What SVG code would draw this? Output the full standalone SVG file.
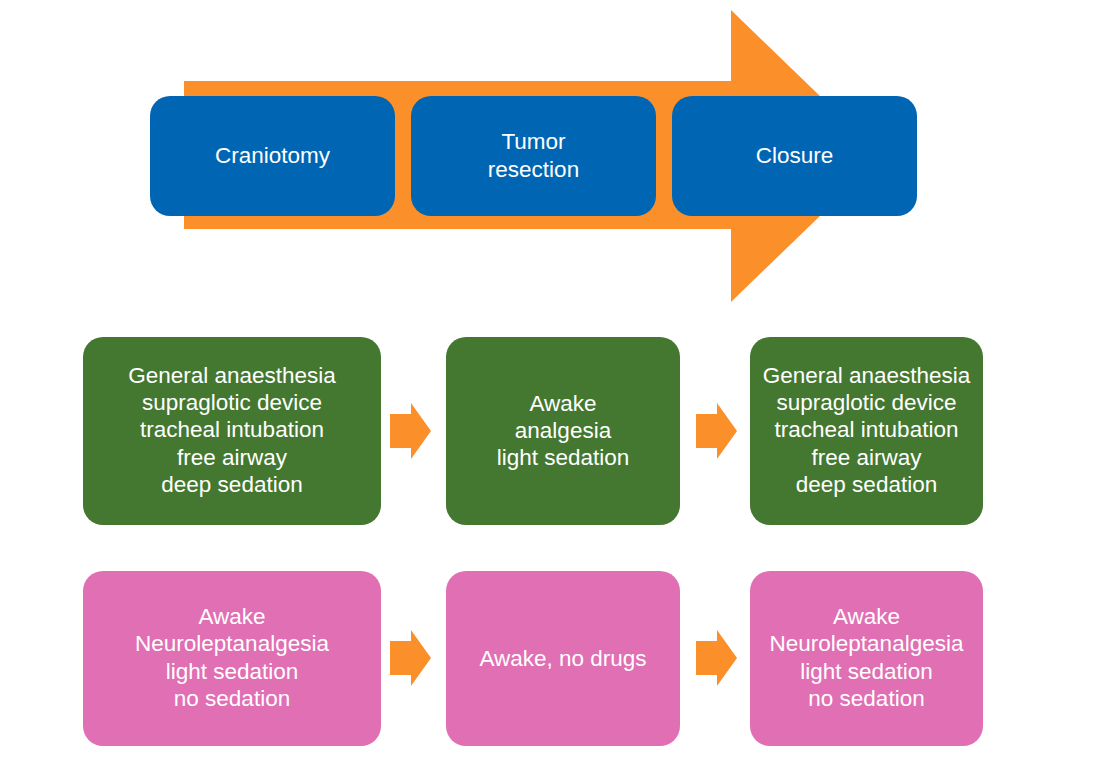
<svg xmlns="http://www.w3.org/2000/svg" width="1102" height="762" viewBox="0 0 1102 762">
<style>
.t{font-family:"Liberation Sans",Arial,sans-serif;font-size:22.5px;fill:#ffffff;text-anchor:middle}
.blue{fill:#0066b3}
.green{fill:#447831}
.pink{fill:#e16fb4}
.arr{fill:#fb8f2a}
</style>
<defs>
<path id="sa" d="M0,-17 H21 V-28 L41,0 L21,28 V17 H0 Z"/>
</defs>
<rect width="1102" height="762" fill="#ffffff"/>
<g id="connectors">
<path class="arr" d="M184,81 H731 V10 L882,156 L731,302 V229 H184 Z"/>
<use href="#sa" class="arr" x="390" y="431"/>
<use href="#sa" class="arr" x="696" y="431"/>
<use href="#sa" class="arr" x="390" y="658"/>
<use href="#sa" class="arr" x="696" y="658"/>
</g>
<g id="craniotomy"><rect class="blue" x="150" y="96" width="245" height="120" rx="20"/><text class="t" x="272.5" y="163">Craniotomy</text></g>
<g id="tumor"><rect class="blue" x="411" y="96" width="245" height="120" rx="20"/><text class="t" x="533.5" y="149">Tumor</text><text class="t" x="533.5" y="177">resection</text></g>
<g id="closure"><rect class="blue" x="672" y="96" width="245" height="120" rx="20"/><text class="t" x="794.5" y="163">Closure</text></g>
<g id="g1"><rect class="green" x="83" y="337" width="298" height="188" rx="20"/>
<text class="t" x="232" y="383">General anaesthesia</text><text class="t" x="232" y="410">supraglotic device</text><text class="t" x="232" y="437">tracheal intubation</text><text class="t" x="232" y="465">free airway</text><text class="t" x="232" y="492">deep sedation</text></g>
<g id="g2"><rect class="green" x="446" y="337" width="234" height="188" rx="20"/>
<text class="t" x="563" y="411">Awake</text><text class="t" x="563" y="438">analgesia</text><text class="t" x="563" y="465">light sedation</text></g>
<g id="g3"><rect class="green" x="750" y="337" width="233" height="188" rx="20"/>
<text class="t" x="866.5" y="383">General anaesthesia</text><text class="t" x="866.5" y="410">supraglotic device</text><text class="t" x="866.5" y="437">tracheal intubation</text><text class="t" x="866.5" y="465">free airway</text><text class="t" x="866.5" y="492">deep sedation</text></g>
<g id="p1"><rect class="pink" x="83" y="571" width="298" height="175" rx="20"/>
<text class="t" x="232" y="624">Awake</text><text class="t" x="232" y="651">Neuroleptanalgesia</text><text class="t" x="232" y="679">light sedation</text><text class="t" x="232" y="706">no sedation</text></g>
<g id="p2"><rect class="pink" x="446" y="571" width="234" height="175" rx="20"/>
<text class="t" x="563" y="666">Awake, no drugs</text></g>
<g id="p3"><rect class="pink" x="750" y="571" width="233" height="175" rx="20"/>
<text class="t" x="866.5" y="624">Awake</text><text class="t" x="866.5" y="651">Neuroleptanalgesia</text><text class="t" x="866.5" y="679">light sedation</text><text class="t" x="866.5" y="706">no sedation</text></g>
</svg>
